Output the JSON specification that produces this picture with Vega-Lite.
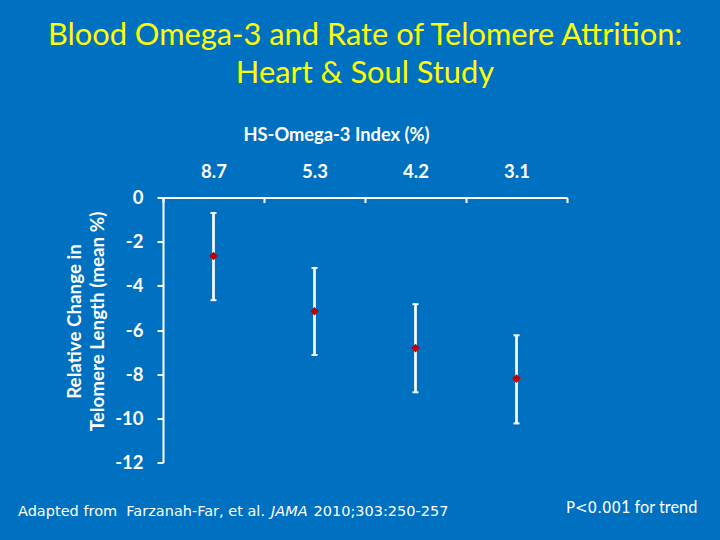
{
  "$schema": "https://vega.github.io/schema/vega-lite/v6.json",
  "width": 404,
  "height": 265,
  "autosize": {"type": "none"},
  "padding": {"left": 163, "top": 197.5, "right": 153, "bottom": 77.5},
  "background": "#0070C0",
  "config": {"view": {"stroke": null}, "font": "Lato"},
  "title": {
    "text": ["Blood Omega-3 and Rate of Telomere Attrition:", "Heart & Soul Study"],
    "color": "#FFFF00",
    "font": "Lato",
    "fontSize": 30.8,
    "fontWeight": "normal",
    "lineHeight": 38,
    "anchor": "middle",
    "frame": "group",
    "baseline": "bottom",
    "offset": 5
  },
  "datasets": {
    "pts": [
      {"idx": "8.7", "mean": -2.65, "lo": -4.65, "hi": -0.7},
      {"idx": "5.3", "mean": -5.15, "lo": -7.13, "hi": -3.19},
      {"idx": "4.2", "mean": -6.82, "lo": -8.82, "hi": -4.83},
      {"idx": "3.1", "mean": -8.2, "lo": -10.23, "hi": -6.24}
    ]
  },
  "resolve": {"axis": {"y": "independent"}},
  "encoding": {
    "x": {
      "field": "idx",
      "type": "nominal",
      "sort": null,
      "scale": {"type": "band", "domain": ["8.7", "5.3", "4.2", "3.1"], "paddingInner": 0, "paddingOuter": 0},
      "axis": {
        "orient": "top",
        "title": "HS-Omega-3 Index (%)",
        "titleColor": "white",
        "titleFont": "Lato",
        "titleFontSize": 18.3,
        "titleFontWeight": "bold",
        "titleX": 173,
        "titleY": -57.5,
        "titleAlign": "center",
        "titleBaseline": "alphabetic",
        "labelColor": "white",
        "labelFont": "Lato",
        "labelFontSize": 18.5,
        "labelFontWeight": "bold",
        "labelAngle": 0,
        "labelBaseline": "alphabetic",
        "labelPadding": 25.5,
        "labelFlush": false,
        "domainColor": "white",
        "domainWidth": 2,
        "tickColor": "white",
        "tickWidth": 2,
        "tickSize": -5,
        "tickBand": "extent",
        "grid": false
      }
    }
  },
  "layer": [
    {
      "data": {"name": "pts"},
      "mark": {"type": "rule", "color": "white", "strokeWidth": 2.7},
      "encoding": {
        "y": {
          "field": "lo",
          "type": "quantitative",
          "scale": {"domain": [-12, 0], "nice": false, "zero": false},
          "axis": {
            "orient": "left",
            "values": [-12, -10, -8, -6, -4, -2, 0],
            "labelExpr": "replace(datum.label, '\u2212', '-')",
            "title": ["Relative Change in", "Telomere Length (mean %)"],
            "titleColor": "white",
            "titleFont": "Lato",
            "titleFontSize": 18.8,
            "titleFontWeight": "bold",
            "titleLineHeight": 22.6,
            "titleAngle": 270,
            "titleX": -82.3,
            "titleY": 123.5,
            "titleAlign": "center",
            "titleBaseline": "alphabetic",
            "labelColor": "white",
            "labelFont": "Lato",
            "labelFontSize": 18.5,
            "labelFontWeight": "bold",
            "labelPadding": 14,
            "labelFlush": false,
            "labelOverlap": false,
            "domainColor": "white",
            "domainWidth": 2,
            "tickColor": "white",
            "tickWidth": 2,
            "tickSize": 6,
            "grid": false
          }
        },
        "y2": {"field": "hi"}
      }
    },
    {
      "data": {"name": "pts"},
      "mark": {"type": "tick", "color": "white", "size": 6, "thickness": 2, "opacity": 1},
      "encoding": {
        "y": {"field": "lo", "type": "quantitative", "scale": {"domain": [-12, 0], "nice": false, "zero": false}, "axis": null}
      }
    },
    {
      "data": {"name": "pts"},
      "mark": {"type": "tick", "color": "white", "size": 6, "thickness": 2, "opacity": 1},
      "encoding": {
        "y": {"field": "hi", "type": "quantitative", "scale": {"domain": [-12, 0], "nice": false, "zero": false}, "axis": null}
      }
    },
    {
      "data": {"name": "pts"},
      "mark": {"type": "point", "shape": "diamond", "filled": true, "color": "#C00000", "size": 75, "opacity": 1},
      "encoding": {
        "y": {"field": "mean", "type": "quantitative", "scale": {"domain": [-12, 0], "nice": false, "zero": false}, "axis": null}
      }
    },
    {
      "data": {"values": [{"idx": "8.7", "v": -14.41, "note": "Adapted from\u00a0 Farzanah-Far, et al."}]},
      "mark": {"type": "text", "align": "left", "baseline": "alphabetic", "dx": -195.5, "color": "white", "font": "DejaVu Sans", "fontSize": 14.5},
      "encoding": {
        "y": {"field": "v", "type": "quantitative", "scale": {"domain": [-12, 0], "nice": false, "zero": false}, "axis": null},
        "text": {"field": "note"}
      }
    },
    {
      "data": {"values": [{"idx": "8.7", "v": -14.41, "note": "JAMA"}]},
      "mark": {"type": "text", "align": "left", "baseline": "alphabetic", "dx": 57.5, "color": "white", "font": "DejaVu Sans", "fontSize": 14.5, "fontStyle": "italic"},
      "encoding": {
        "y": {"field": "v", "type": "quantitative", "scale": {"domain": [-12, 0], "nice": false, "zero": false}, "axis": null},
        "text": {"field": "note"}
      }
    },
    {
      "data": {"values": [{"idx": "8.7", "v": -14.41, "note": "2010;303:250-257"}]},
      "mark": {"type": "text", "align": "left", "baseline": "alphabetic", "dx": 100, "color": "white", "font": "DejaVu Sans", "fontSize": 14.5},
      "encoding": {
        "y": {"field": "v", "type": "quantitative", "scale": {"domain": [-12, 0], "nice": false, "zero": false}, "axis": null},
        "text": {"field": "note"}
      }
    },
    {
      "data": {"values": [{"idx": "3.1", "v": -14.3, "note": "P<0.00"}]},
      "mark": {"type": "text", "align": "left", "baseline": "alphabetic", "dx": 49.5, "color": "white", "font": "DejaVu Sans", "fontSize": 15},
      "encoding": {
        "y": {"field": "v", "type": "quantitative", "scale": {"domain": [-12, 0], "nice": false, "zero": false}, "axis": null},
        "text": {"field": "note"}
      }
    },
    {
      "data": {"values": [{"idx": "3.1", "v": -14.3, "note": "1 for trend"}]},
      "mark": {"type": "text", "align": "left", "baseline": "alphabetic", "dx": 104.5, "color": "white", "font": "Lato", "fontSize": 16.3},
      "encoding": {
        "y": {"field": "v", "type": "quantitative", "scale": {"domain": [-12, 0], "nice": false, "zero": false}, "axis": null},
        "text": {"field": "note"}
      }
    }
  ]
}
